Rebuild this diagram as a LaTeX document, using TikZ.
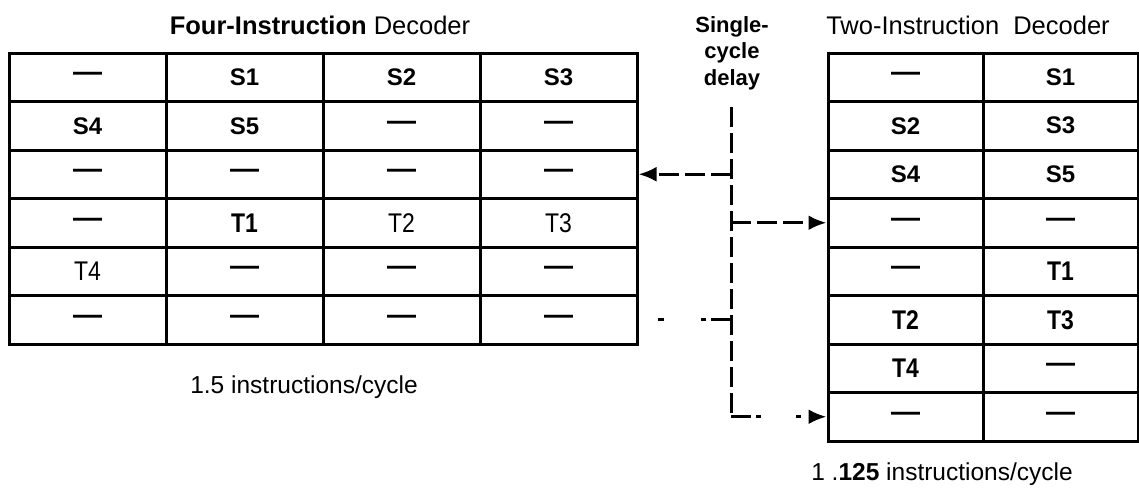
\documentclass[tikz,border=0pt]{standalone}
\usepackage{fontspec}
\setmainfont{Liberation Sans}
\newfontfamily\condfont[FakeStretch=0.85]{Liberation Sans}
\usetikzlibrary{arrows.meta}
\begin{document}
\begin{tikzpicture}[x=1pt,y=-1pt,
  cellbox/.style={draw, line width=3pt, inner sep=0pt, minimum height=48.5pt, anchor=center},
  lcell/.style={cellbox, minimum width=157pt},
  rcell/.style={cellbox, minimum width=155pt},
  stxt/.style={font=\fontsize{24}{24}\selectfont\bfseries},
  ttxt/.style={font=\fontsize{27}{27}\selectfont\condfont},
  tbtxt/.style={font=\fontsize{27}{27}\selectfont\condfont\bfseries},
  dtxt/.style={font=\fontsize{29}{29}\selectfont\bfseries},
  hdr/.style={font=\fontsize{25.5}{25.5}\selectfont, inner sep=0pt, anchor=base},
  captxt/.style={font=\fontsize{24.5}{24.5}\selectfont, inner sep=0pt, anchor=base},
  link/.style={line width=3pt, dash pattern=on 20pt off 6pt},
  tip/.style={-{Latex[length=18pt,width=15pt]}}
]
\useasboundingbox (0,0) rectangle (1139,493);

% ---- left table (four-instruction decoder)
\foreach \r/\c/\s/\t in {
  1/1/dtxt/—, 1/2/stxt/S1, 1/3/stxt/S2, 1/4/stxt/S3,
  2/1/stxt/S4, 2/2/stxt/S5, 2/3/dtxt/—, 2/4/dtxt/—,
  3/1/dtxt/—, 3/2/dtxt/—, 3/3/dtxt/—, 3/4/dtxt/—,
  4/1/dtxt/—, 4/2/tbtxt/T1, 4/3/ttxt/T2, 4/4/ttxt/T3,
  5/1/ttxt/T4, 5/2/dtxt/—, 5/3/dtxt/—, 5/4/dtxt/—,
  6/1/dtxt/—, 6/2/dtxt/—, 6/3/dtxt/—, 6/4/dtxt/—}
  \node[lcell,\s] (L\r\c) at ({9+157*(\c-0.5)},{53+48.5*(\r-0.5)}) {\t};

% ---- right table (two-instruction decoder)
\foreach \r/\c/\s/\t in {
  1/1/dtxt/—, 1/2/stxt/S1,
  2/1/stxt/S2, 2/2/stxt/S3,
  3/1/stxt/S4, 3/2/stxt/S5,
  4/1/dtxt/—, 4/2/dtxt/—,
  5/1/dtxt/—, 5/2/tbtxt/T1,
  6/1/tbtxt/T2, 6/2/tbtxt/T3,
  7/1/tbtxt/T4, 7/2/dtxt/—,
  8/1/dtxt/—, 8/2/dtxt/—}
  \node[rcell,\s] (R\r\c) at ({828+155*(\c-0.5)},{53+48.5*(\r-0.5)}) {\t};

% ---- headings and captions
\node[hdr] (h1) at (320,34) {\bfseries Four-Instruction\mdseries{} Decoder};
\node[hdr] (h2) at (968,34) {Two-Instruction\ \ Decoder};
\node[font=\fontsize{22}{26.5}\selectfont\bfseries, align=center, inner sep=0pt, anchor=base] (h3) at (732,85) {Single-\\cycle\\delay};
\node[captxt] (c1) at (304,393) {1.5 instructions/cycle};
\node[captxt] (c2) at (942,480) {1 .\textbf{125} instructions/cycle};

% ---- single-cycle delay connectors
\coordinate (vtop) at (731,107);
\coordinate (j1) at (L34.east -| vtop);
\coordinate (j2) at (R41.west -| vtop);
\coordinate (j3) at (L64.east -| vtop);
\coordinate (j4) at (R81.west -| vtop);
\draw[link] (vtop) -- (j4);
\draw[link,tip] (j1) -- (L34.east);
\draw[link,tip] (j2) -- (R41.west);
\draw[line width=3pt, dash pattern=on 20pt off 5pt on 5pt off 37pt on 6pt off 60pt] (j3) -- (L64.east);
\draw[line width=3pt, tip, dash pattern=on 20pt off 5pt on 5pt off 35pt on 5pt off 60pt] (j4) -- (R81.west);
\end{tikzpicture}
\end{document}
